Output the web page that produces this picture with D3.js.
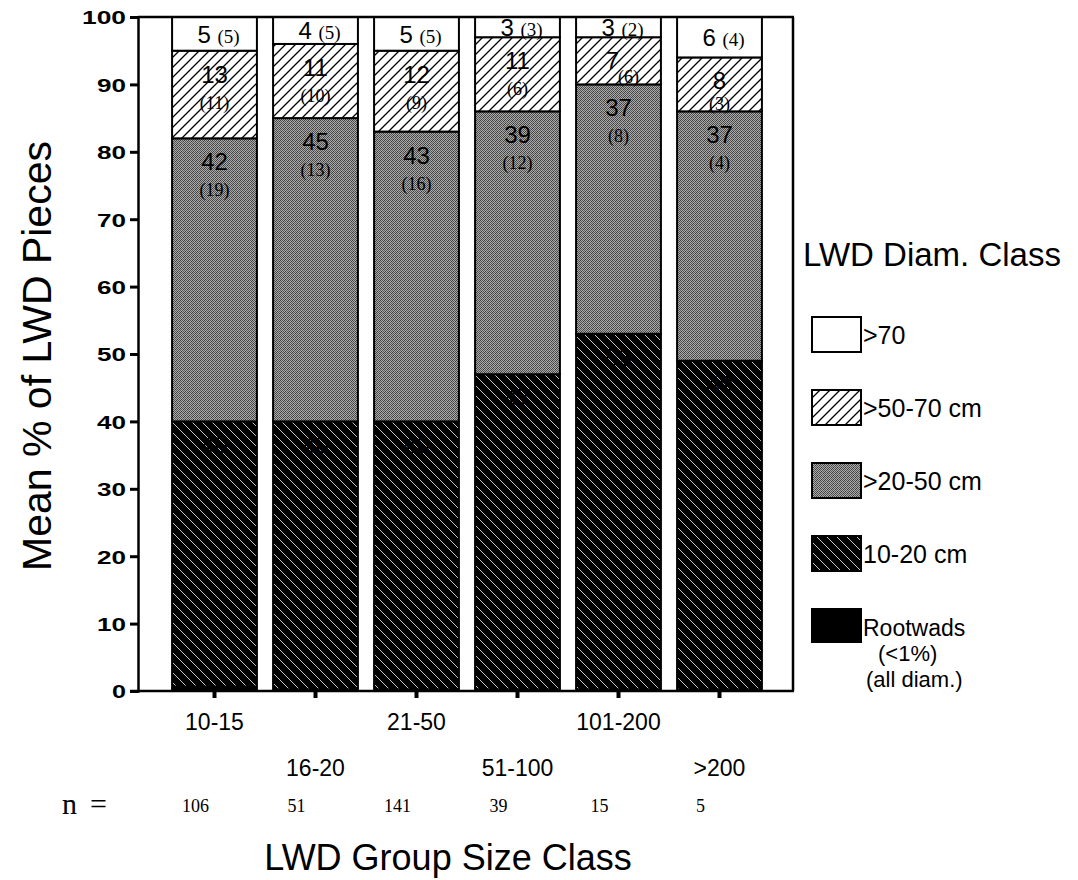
<!DOCTYPE html>
<html>
<head>
<meta charset="utf-8">
<script src="https://cdn.jsdelivr.net/npm/d3@7"></script>
<style>
  body { margin: 0; background: #fff; }
  text { fill: #000; }
</style>
</head>
<body>
<svg id="chart" width="1078" height="880"></svg>
<script>
// LWD group size classes and number of groups in each
const groups = ["10-15", "16-20", "21-50", "51-100", "101-200", ">200"];
const nCounts = [106, 51, 141, 39, 15, 5];

// Mean % of pieces by diameter class (stacked bottom to top)
const pct10to20 = [40, 40, 40, 47, 53, 49];
const pct20to50 = [42, 45, 43, 39, 37, 37];
const pct50to70 = [13, 11, 12, 11, 7, 8];
const pctOver70 = [5, 4, 5, 3, 3, 6];
// Rootwads, all diameters (<1%)
const pctRootwads = [0.8, 0.4, 0.4, 0.4, 0.4, 0.4];

// Bracketed counts printed under the percentages
const cnt20to50 = [19, 13, 16, 12, 8, 4];
const cnt50to70 = [11, 10, 9, 6, 6, 3];
const cntOver70 = [5, 5, 5, 3, 2, 4];

const yTicks = [0, 10, 20, 30, 40, 50, 60, 70, 80, 90, 100];

const legendItems = [">70", ">50-70 cm", ">20-50 cm", "10-20 cm", "Rootwads"];

const SANS = "Liberation Sans, Arial, sans-serif";
const SERIF = "Liberation Serif, Times New Roman, serif";

const svg = d3.select("#chart");
const defs = svg.append("defs");

// ---- fill patterns ----
// light hatching "/" on white
const pUp = defs.append("pattern").attr("id", "hatchUp")
  .attr("patternUnits", "userSpaceOnUse").attr("width", 10).attr("height", 10);
pUp.append("rect").attr("width", 10).attr("height", 10).attr("fill", "#fff");
pUp.append("path").attr("d", "M-2,2 L2,-2 M0,10 L10,0 M8,12 L12,8")
  .attr("stroke", "#000").attr("stroke-width", 1.3);

// white hatching "\" on black
const pDown = defs.append("pattern").attr("id", "hatchDown")
  .attr("patternUnits", "userSpaceOnUse").attr("width", 10).attr("height", 10);
pDown.append("rect").attr("width", 10).attr("height", 10).attr("fill", "#000");
pDown.append("path").attr("d", "M-2,8 L2,12 M0,0 L10,10 M8,-2 L12,2")
  .attr("stroke", "#c8c8c8").attr("stroke-width", 1);

// stippled grey
const pGrey = defs.append("pattern").attr("id", "stipple")
  .attr("patternUnits", "userSpaceOnUse").attr("width", 4).attr("height", 4);
pGrey.append("rect").attr("width", 4).attr("height", 4).attr("fill", "#ababab");
[[0,0],[2,0],[1,1],[3,1],[0,2],[2,2],[1,3],[3,3]].forEach(([px,py], i) => {
  pGrey.append("rect").attr("x", px).attr("y", py).attr("width", 1).attr("height", 1)
    .attr("fill", i % 3 === 0 ? "#3a3a3a" : "#555555");
});
pGrey.selectAll("rect").attr("shape-rendering", "crispEdges");

// ---- scales ----
const x = d3.scaleBand().domain(groups).range([164, 770]).paddingInner(0.16).paddingOuter(0.08);
const y = d3.scaleLinear().domain([0, 100]).range([691, 17]);

const series = [
  { key: "10-20", values: pct10to20, counts: null, fill: "url(#hatchDown)" },
  { key: "20-50", values: pct20to50, counts: cnt20to50, fill: "url(#stipple)" },
  { key: "50-70", values: pct50to70, counts: cnt50to70, fill: "url(#hatchUp)" },
  { key: ">70",   values: pctOver70, counts: cntOver70, fill: "#fff" }
];

// build stacked rows
const rows = groups.map((g, i) => {
  const r = { group: g };
  series.forEach(s => { r[s.key] = s.values[i]; });
  return r;
});
const stacked = d3.stack().keys(series.map(s => s.key))(rows);

const bars = svg.append("g");
stacked.forEach((layer, li) => {
  const s = series[li];
  bars.append("g").selectAll("rect").data(layer).join("rect")
    .attr("x", d => x(d.data.group))
    .attr("y", d => y(d[1]))
    .attr("width", x.bandwidth())
    .attr("height", d => y(d[0]) - y(d[1]))
    .attr("fill", s.fill)
    .attr("stroke", "#000")
    .attr("stroke-width", 2);
});

// rootwads strip at the base of each bar
bars.append("g").selectAll("rect").data(groups).join("rect")
  .attr("x", g => x(g))
  .attr("y", (g, i) => y(pctRootwads[i]))
  .attr("width", x.bandwidth())
  .attr("height", (g, i) => y(0) - y(pctRootwads[i]))
  .attr("fill", "#000");

// ---- value labels ----
const labels = svg.append("g");
stacked.forEach((layer, li) => {
  const s = series[li];
  layer.forEach((d, i) => {
    const cx = x(d.data.group) + x.bandwidth() / 2;
    const top = y(d[1]), bot = y(d[0]);
    const h = bot - top;
    if (s.key === ">70") {
      const t = labels.append("text")
        .attr("x", cx + 4).attr("y", (top + bot) / 2 + 9)
        .attr("text-anchor", "middle");
      t.append("tspan").attr("font-family", SANS)
        .attr("font-size", 24).text(s.values[i] + " ");
      t.append("tspan").attr("font-family", SERIF)
        .attr("font-size", 19).text("(" + s.counts[i] + ")");
    } else {
      const short = h < 50;
      labels.append("text")
        .attr("x", cx + (short ? -6 : 0)).attr("y", top + 32)
        .attr("text-anchor", "middle")
        .attr("font-family", SANS)
        .attr("font-size", 24)
        .text(s.values[i]);
      if (s.counts) {
        labels.append("text")
          .attr("x", cx + (short ? 10 : 0)).attr("y", Math.min(top + 58, bot - 1))
          .attr("text-anchor", "middle")
          .attr("font-family", SERIF)
          .attr("font-size", 18)
          .text("(" + s.counts[i] + ")");
      }
    }
  });
});

// ---- frame and axes ----
const frame = svg.append("g").attr("stroke", "#000").attr("fill", "none");
frame.append("line").attr("x1", 138).attr("x2", 794).attr("y1", y(100)).attr("y2", y(100)).attr("stroke-width", 2.5);
frame.append("line").attr("x1", 793).attr("x2", 793).attr("y1", y(100)).attr("y2", y(0)).attr("stroke-width", 2.5);

const yAxis = d3.axisLeft(y).tickValues(yTicks).tickSize(8).tickPadding(4).tickFormat(d3.format("d"));
const gy = svg.append("g").attr("transform", "translate(138,0)").call(yAxis);
gy.select(".domain").attr("stroke-width", 2.5);
gy.selectAll(".tick line").attr("stroke-width", 3);
gy.selectAll(".tick text")
  .attr("font-family", SANS)
  .attr("font-weight", "bold")
  .attr("font-size", 19)
  .attr("dy", "0.36em")
  .attr("textLength", d => String(d).length * 15 - 1)
  .attr("lengthAdjust", "spacingAndGlyphs");

const xAxis = d3.axisBottom(x).tickSize(7).tickFormat("");
const gx = svg.append("g").attr("transform", `translate(0,${y(0)})`).call(xAxis);
gx.select(".domain").attr("d", "M130,0H794").attr("stroke-width", 2.5);
gx.selectAll(".tick line").attr("stroke-width", 4);

// category labels in two staggered rows
svg.append("g").selectAll("text").data(groups).join("text")
  .attr("x", g => x(g) + x.bandwidth() / 2)
  .attr("y", (g, i) => i % 2 === 0 ? 730 : 776)
  .attr("text-anchor", "middle")
  .attr("font-family", SANS)
  .attr("font-size", 23)
  .text(g => g);

// group counts
svg.append("text").attr("x", 62).attr("y", 814)
  .attr("font-family", SERIF)
  .attr("font-size", 30).attr("textLength", 45).attr("lengthAdjust", "spacing")
  .text("n =");
svg.append("g").selectAll("text").data(nCounts).join("text")
  .attr("x", (n, i) => x(groups[i]) + x.bandwidth() / 2 - 19)
  .attr("y", 812)
  .attr("text-anchor", "middle")
  .attr("font-family", SERIF)
  .attr("font-size", 18)
  .text(n => n);

// axis titles
svg.append("text")
  .attr("x", 448).attr("y", 870)
  .attr("text-anchor", "middle")
  .attr("font-family", SANS)
  .attr("font-size", 36)
  .text("LWD Group Size Class");

svg.append("text")
  .attr("transform", "translate(51,356) rotate(-90)")
  .attr("text-anchor", "middle")
  .attr("font-family", SANS)
  .attr("font-size", 41)
  .text("Mean % of LWD Pieces");

// ---- legend ----
const legend = svg.append("g");
legend.append("text").attr("x", 803).attr("y", 266)
  .attr("font-family", SANS)
  .attr("font-size", 33)
  .text("LWD Diam. Class");

const legendFills = ["#fff", "url(#hatchUp)", "url(#stipple)", "url(#hatchDown)", "#000"];
const legendTop = [317, 390, 463, 536, 609];
legendItems.forEach((lab, i) => {
  legend.append("rect")
    .attr("x", 812).attr("y", legendTop[i])
    .attr("width", 49).attr("height", i === 4 ? 33 : 35)
    .attr("fill", legendFills[i]).attr("stroke", "#000").attr("stroke-width", 2);
  legend.append("text")
    .attr("x", 863).attr("y", i === 4 ? 636 : legendTop[i] + 27)
    .attr("font-family", SANS)
    .attr("font-size", i === 4 ? 23 : 25)
    .text(lab);
});
legend.append("text").attr("x", 878).attr("y", 661)
  .attr("font-family", SANS)
  .attr("font-size", 22).text("(<1%)");
legend.append("text").attr("x", 866).attr("y", 687)
  .attr("font-family", SANS)
  .attr("font-size", 22).text("(all diam.)");
</script>
</body>
</html>
